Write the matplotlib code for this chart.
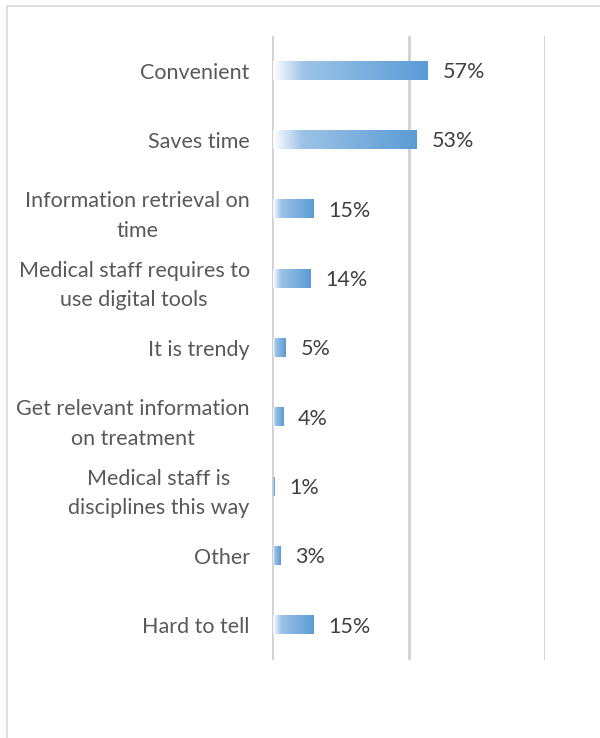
import numpy as np
import matplotlib.pyplot as plt
from matplotlib.colors import LinearSegmentedColormap
from matplotlib.patches import Rectangle

categories = [
    "Convenient",
    "Saves time",
    "Information retrieval on\ntime",
    "Medical staff requires to\nuse digital tools",
    "It is trendy",
    "Get relevant information\non treatment",
    "Medical staff is\ndisciplines this way",
    "Other",
    "Hard to tell",
]
values = [57, 53, 15, 14, 5, 4, 1, 3, 15]

plt.rcParams["font.family"] = ["Lato", "DejaVu Sans"]

fig = plt.figure(figsize=(6, 7.38), dpi=100)
fig.patches.append(Rectangle((7 / 600, -0.1), 1.2, 1 - 6 / 738 + 0.1,
                             transform=fig.transFigure, fill=False,
                             edgecolor="#d9d9d9", linewidth=1.2))
ax = fig.add_axes([272 / 600, 78 / 738, 273 / 600, 624 / 738])

blue = "#5b9bd5"
cmap = LinearSegmentedColormap.from_list(
    "grad", [(0, "#ffffff"), (0.2, "#9dc3e6"), (1, blue)])
grad = np.linspace(0, 1, 256).reshape(1, -1)

n = len(categories)
y = np.arange(n)
h = 0.26
for yi, v in zip(y, values):
    ax.imshow(grad, cmap=cmap, aspect="auto", extent=(0.3, v, yi + h / 2, yi - h / 2),
              zorder=3, interpolation="bicubic")
    ax.text(v + 5.5, yi + 0.02, f"{v}%", va="center", ha="left", fontsize=15.5,
            color="#404040")

ax.set_xlim(0, 100)
ax.set_ylim(n - 0.5, -0.5)
for gx in [0, 50, 100]:
    ax.axvline(gx, color="#d0d0d0", linewidth=2, zorder=1)

ax.set_yticks(y)
ax.set_yticklabels(categories, fontsize=15.5, color="#595959",
                   multialignment="center", linespacing=1.6)
ax.tick_params(axis="y", length=0, pad=16)
ax.set_xticks([])
for s in ax.spines.values():
    s.set_visible(False)

plt.savefig("out.png", dpi=100)
